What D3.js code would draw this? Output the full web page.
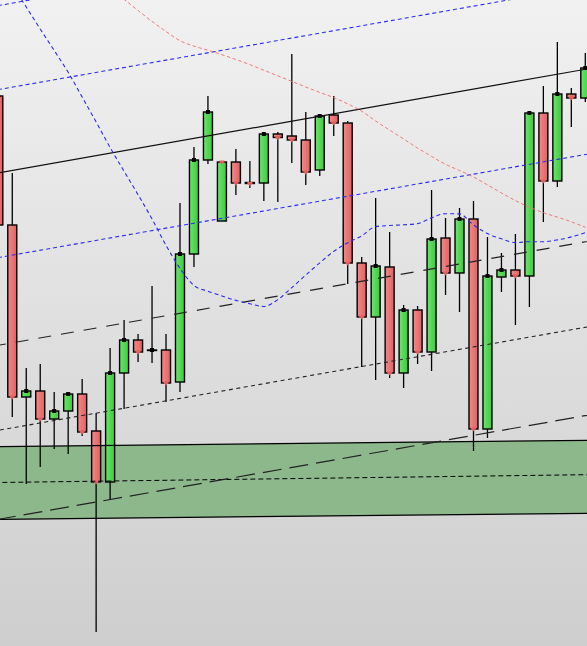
<!DOCTYPE html>
<html>
<head>
<meta charset="utf-8">
<script src="https://cdn.jsdelivr.net/npm/d3@7"></script>
<style>
  html, body { margin: 0; padding: 0; overflow: hidden; background: #e0e0e0; }
  svg { display: block; }
</style>
</head>
<body>
<div id="chart"></div>
<script>
// ---- data (price units) ----
const opens  = [904,775,603,609,581,589,606,569,518,627,660,649.5,650,618,746,840,779,838,817.5,817,866,864,860,830,885,877,737,683,733,627,690,648,762,727,781,571,723,730,724,887,819,906,902];
const highs  = [908,827,632,636,608,608,621,587,652,680,666,714,666,797,853,904,838,851,839,867,868,946,888,886,904,879,743,802,768,695,694,810,782,792,799,763,747,766,887,914,958,912,947];
const lows   = [772,583,516,533,551,546,564,368,501,591,638,637,598,608,733,836,779,805,812,799,798,837,815,824,864,716,633,620,622,612,636,629,705,688,549,562,708,675,693,778,813,873,898];
const closes = [775,603,609,581,589,606,568,518,627,660,648,650,617,746,840,888,838,817,816.5,866,862.5,860,828,884,877,737,683,734,627,690,648,761,727,781,571,724,730,724,887,819,906,902,932];

const blueMA = [1036,1015,993,971,949.5,927.7,903,878,852.5,828.7,805.3,781,754.7,731.7,714.5,708.8,704,699.6,696.2,693.5,700.4,712.4,724.9,737.2,748.6,757.2,764.2,773.4,774.5,775.2,776.4,782.2,786.3,786.1,775.1,766.4,761.2,757.4,758.3,758.3,760.1,763.1,767.3];
const redMA  = [null,null,null,null,null,null,1036,1024,1012,1000.7,989.5,978.6,968.5,959.3,953.9,949.7,945.3,940.5,935.4,929.8,924.2,918.6,913,907.6,902.4,896.1,888.8,879,869.9,861,851.9,843.6,835.7,829.5,823,815.1,807.1,799.4,792.8,787.3,782.9,778.2,772.7];

// channel lines: value at first and last candle
const chUpper2 = [994.4, 1098];
const chUpper1 = [910.4, 1013.5];
const chMid    = [827.0, 930.7];
const chLower1 = [742.4, 845.5];
const chLower2 = [654.7, 758.2];
const chLower3 = [569.7, 672.7];
const chLower4 = [480.7, 584.4];
const zoneTop    = [553.3, 559.7];
const zoneBottom = [480.7, 486.7];
const zoneMid    = [517.5, 525.3];

// ---- chart ----
const W = 587, H = 646;
const N = opens.length;
const svg = d3.select("#chart").append("svg").attr("width", W).attr("height", H);
const defs = svg.append("defs");

const bg = defs.append("linearGradient").attr("id","bg").attr("x1",0).attr("y1",0).attr("x2",0).attr("y2",1);
bg.append("stop").attr("offset","0%").attr("stop-color","#f1f1f1");
bg.append("stop").attr("offset","100%").attr("stop-color","#cecece");
const gr = defs.append("linearGradient").attr("id","gUp").attr("x1",0).attr("y1",0).attr("x2",1).attr("y2",0);
gr.append("stop").attr("offset","0%").attr("stop-color","#6ae66a");
gr.append("stop").attr("offset","100%").attr("stop-color","#40c840");
const rd = defs.append("linearGradient").attr("id","gDn").attr("x1",0).attr("y1",0).attr("x2",1).attr("y2",0);
rd.append("stop").attr("offset","0%").attr("stop-color","#f48888");
rd.append("stop").attr("offset","100%").attr("stop-color","#e06262");

svg.append("rect").attr("width",W).attr("height",H).attr("fill","url(#bg)");

const x = d3.scaleLinear().domain([0, N-1]).range([-1.7, 585.3]);
const y = d3.scaleLinear().domain([1000, 354]).range([0, H]);

const ext = [-2, N+1];
function straight(pair){
  const s = d3.scaleLinear().domain([0, N-1]).range(pair);
  return ext.map(i => [x(i), y(s(i))]);
}

// zone fill
const zt = straight(zoneTop), zb = straight(zoneBottom);
svg.append("path")
  .attr("d", d3.line()(zt.concat(zb.slice().reverse())) + "Z")
  .attr("fill", "#8cb88c");

// candles
const data = d3.range(N).map(i => ({i, o: opens[i], h: highs[i], l: lows[i], c: closes[i]}));
const g = svg.append("g");
g.selectAll("line.wick").data(data).join("line")
  .attr("x1", d => x(d.i)).attr("x2", d => x(d.i))
  .attr("y1", d => y(d.h)).attr("y2", d => y(d.l))
  .attr("stroke", "#000").attr("stroke-width", 1.3);
g.selectAll("rect.body").data(data).join("rect")
  .attr("x", d => x(d.i) - 4.5).attr("width", 9)
  .attr("y", d => y(Math.max(d.o, d.c)))
  .attr("height", d => Math.max(0.5, Math.abs(y(d.o) - y(d.c))))
  .attr("fill", d => d.c >= d.o ? "url(#gUp)" : "url(#gDn)")
  .attr("stroke", "#000").attr("stroke-width", 1.4);
// close markers (vs previous close)
const marks = data.filter(d => d.i > 0);
g.selectAll("path.mark").data(marks).join("path")
  .attr("d", d => {
    const cx = x(d.i), cy = y(d.c);
    if (d.c >= closes[d.i-1]) return `M${cx-2},${cy-2}h4v4h-4Z`;
    return `M${cx-2.5},${cy-1.5}h5v1.5l-2.5,2.5l-2.5,-2.5Z`;
  })
  .attr("fill", d => d.c >= closes[d.i-1] ? "#000" : "#e25e5e");

// zone borders + mid
const lineGen = d3.line();
svg.append("path").attr("d", lineGen(zt)).attr("fill","none").attr("stroke","#000").attr("stroke-width",1.2);
svg.append("path").attr("d", lineGen(zb)).attr("fill","none").attr("stroke","#000").attr("stroke-width",1.2);
svg.append("path").attr("d", lineGen(straight(zoneMid))).attr("fill","none").attr("stroke","#000").attr("stroke-width",1).attr("stroke-dasharray","5,3");

// channel
const chStyles = [
  {v: chUpper2, c: "#2b2bf0", w: 1.1, d: "4,3"},
  {v: chUpper1, c: "#2b2bf0", w: 1.1, d: "4,3"},
  {v: chMid,    c: "#111",    w: 1.2, d: null},
  {v: chLower1, c: "#2b2bf0", w: 1.1, d: "4,3"},
  {v: chLower2, c: "#222",    w: 1.2, d: "13,10"},
  {v: chLower3, c: "#222",    w: 1.1, d: "4,3.5"},
  {v: chLower4, c: "#222",    w: 1.2, d: "19,8"}
];
chStyles.forEach(s => {
  const p = svg.append("path").attr("d", lineGen(straight(s.v)))
    .attr("fill","none").attr("stroke", s.c).attr("stroke-width", s.w);
  if (s.d) p.attr("stroke-dasharray", s.d);
});

// moving averages
const maLine = d3.line().defined(v => v[1] != null).x(v => x(v[0])).y(v => y(v[1])).curve(d3.curveMonotoneX);
svg.append("path").attr("d", maLine(redMA.map((v,i)=>[i,v])))
  .attr("fill","none").attr("stroke","#ee7a7a").attr("stroke-width",1).attr("stroke-dasharray","3.5,2.5");
svg.append("path").attr("d", maLine(blueMA.map((v,i)=>[i,v])))
  .attr("fill","none").attr("stroke","#2b2bf0").attr("stroke-width",1.1).attr("stroke-dasharray","4,3");
</script>
</body>
</html>
